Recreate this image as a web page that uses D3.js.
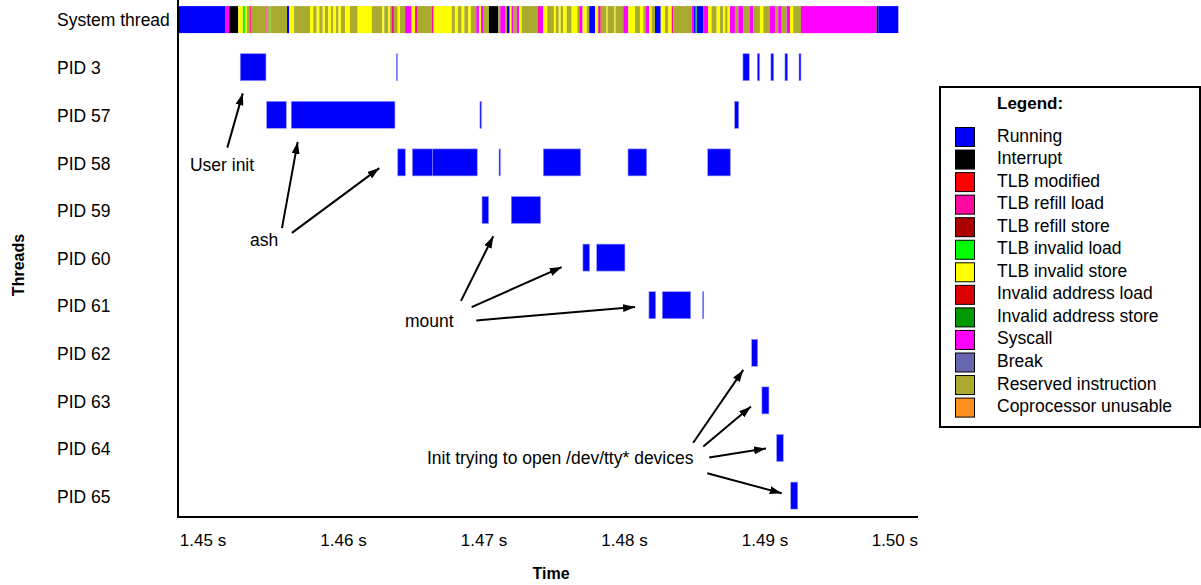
<!DOCTYPE html>
<html>
<head>
<meta charset="utf-8">
<script src="https://cdn.jsdelivr.net/npm/d3@7"></script>
<style>
  body { margin: 0; background: #fff; }
</style>
</head>
<body>
<div id="chart"></div>
<script>
const threads = ["System thread", "PID 3", "PID 57", "PID 58", "PID 59", "PID 60",
  "PID 61", "PID 62", "PID 63", "PID 64", "PID 65"];

const stateNames = ["Running", "Interrupt", "TLB modified", "TLB refill load",
  "TLB refill store", "TLB invalid load", "TLB invalid store", "Invalid address load",
  "Invalid address store", "Syscall", "Break", "Reserved instruction", "Coprocessor unusable"];
const stateColors = ["#0000ff", "#000000", "#ff0000", "#ff0aa0", "#aa0000", "#00ff00",
  "#ffff00", "#dd0000", "#009900", "#ff00ff", "#6666b0", "#aaaa2f", "#ff9020"];

// short codes used in the system thread trace
const codeNames = { R: "Running", K: "Interrupt", P: "TLB refill load", G: "TLB invalid load",
  Y: "TLB invalid store", S: "Syscall", O: "Reserved instruction" };

// system thread: [start time (ms), state]; each slice ends where the next begins
const systemSlices = [
  [1448.22,"R"],[1451.57,"S"],[1451.87,"K"],[1452.51,"Y"],[1452.83,"O"],[1452.92,"G"],[1452.99,"Y"],
  [1453.13,"O"],[1453.35,"P"],[1453.42,"O"],[1454.52,"P"],[1454.59,"O"],[1454.73,"G"],[1454.80,"O"],
  [1455.98,"R"],[1456.14,"Y"],[1456.48,"O"],[1457.62,"Y"],[1457.85,"O"],[1458.09,"Y"],[1458.28,"O"],
  [1458.52,"Y"],[1458.68,"O"],[1458.92,"Y"],[1459.11,"O"],[1459.25,"Y"],[1459.47,"O"],[1459.64,"Y"],
  [1459.82,"O"],[1460.11,"Y"],[1460.46,"O"],[1461.01,"Y"],[1462.01,"O"],[1462.76,"Y"],[1462.90,"O"],
  [1463.19,"Y"],[1463.31,"O"],[1463.45,"P"],[1463.59,"O"],[1463.86,"Y"],[1464.02,"O"],[1464.38,"S"],
  [1464.85,"Y"],[1465.09,"P"],[1465.23,"O"],[1466.28,"P"],[1466.42,"Y"],[1467.70,"O"],[1467.93,"Y"],
  [1468.15,"O"],[1468.41,"Y"],[1468.60,"O"],[1468.88,"Y"],[1469.07,"O"],[1469.45,"S"],[1469.64,"Y"],
  [1469.79,"S"],[1469.98,"O"],[1470.35,"K"],[1471.02,"O"],[1471.16,"S"],[1471.54,"O"],[1471.64,"R"],
  [1471.83,"Y"],[1471.96,"S"],[1472.11,"O"],[1472.33,"S"],[1472.49,"Y"],[1472.68,"O"],[1473.84,"P"],
  [1473.98,"S"],[1474.22,"Y"],[1474.50,"O"],[1474.98,"Y"],[1475.12,"O"],[1475.32,"Y"],[1475.46,"O"],
  [1475.64,"Y"],[1475.89,"O"],[1476.24,"Y"],[1476.64,"O"],[1476.78,"S"],[1477.02,"Y"],[1477.31,"O"],
  [1477.49,"R"],[1477.90,"Y"],[1478.13,"P"],[1478.31,"O"],[1478.72,"Y"],[1478.79,"O"],[1479.29,"Y"],
  [1479.36,"O"],[1479.91,"S"],[1480.27,"Y"],[1480.75,"O"],[1481.10,"Y"],[1481.34,"O"],[1481.53,"S"],
  [1481.76,"Y"],[1481.93,"O"],[1482.17,"R"],[1482.58,"Y"],[1482.88,"O"],[1483.12,"Y"],[1483.36,"P"],
  [1483.47,"O"],[1484.78,"S"],[1484.95,"R"],[1485.07,"G"],[1485.14,"R"],[1485.61,"S"],[1485.96,"Y"],
  [1486.20,"O"],[1486.56,"Y"],[1486.80,"O"],[1487.03,"Y"],[1487.17,"O"],[1487.34,"Y"],[1487.51,"S"],
  [1487.86,"O"],[1488.10,"S"],[1488.45,"O"],[1488.93,"S"],[1489.17,"O"],[1489.64,"Y"],[1489.88,"O"],
  [1490.35,"S"],[1490.71,"O"],[1490.94,"S"],[1491.19,"O"],[1491.54,"S"],[1491.78,"Y"],[1492.01,"O"],
  [1492.56,"S"],[1497.95,"K"],[1498.06,"R"]
];
const systemEnd = 1499.49;

// process runs: [thread, start (ms), end (ms)]
const pidRuns = [
  ["PID 3", 1452.65, 1454.48], ["PID 3", 1463.76, 1463.84], ["PID 3", 1488.43, 1488.88],
  ["PID 3", 1489.45, 1489.62], ["PID 3", 1490.42, 1490.62], ["PID 3", 1491.42, 1491.61],
  ["PID 3", 1492.42, 1492.56],
  ["PID 57", 1454.53, 1455.93], ["PID 57", 1456.28, 1463.66], ["PID 57", 1469.71, 1469.82],
  ["PID 57", 1487.84, 1488.13],
  ["PID 58", 1463.86, 1464.40], ["PID 58", 1464.90, 1466.32], ["PID 58", 1466.32, 1469.52],
  ["PID 58", 1471.07, 1471.17], ["PID 58", 1474.22, 1476.88], ["PID 58", 1480.25, 1481.58],
  ["PID 58", 1485.92, 1487.53],
  ["PID 59", 1469.86, 1470.33], ["PID 59", 1471.94, 1474.03],
  ["PID 60", 1477.04, 1477.52], ["PID 60", 1478.02, 1480.03],
  ["PID 61", 1481.74, 1482.22], ["PID 61", 1482.69, 1484.71], ["PID 61", 1485.56, 1485.64],
  ["PID 62", 1489.05, 1489.48],
  ["PID 63", 1489.78, 1490.28],
  ["PID 64", 1490.83, 1491.30],
  ["PID 65", 1491.83, 1492.33]
];

const tickValues = [1450, 1460, 1470, 1480, 1490, 1500];
const tickLabels = ["1.45 s", "1.46 s", "1.47 s", "1.48 s", "1.49 s", "1.50 s"];

// annotations in data units: time (ms) and row index
const noteLabels = [
  { text: "User init", t: 1449.07, row: 3.06 },
  { text: "ash", t: 1453.35, row: 4.63 },
  { text: "mount", t: 1464.38, row: 6.33 },
  { text: "Init trying to open /dev/tty* devices", t: 1465.94, row: 9.21 }
];
const noteArrows = [
  [1451.73, 2.69, 1452.83, 1.55],
  [1455.62, 4.38, 1456.74, 2.57],
  [1456.33, 4.48, 1462.55, 3.12],
  [1468.36, 5.91, 1470.66, 4.55],
  [1469.12, 6.04, 1475.53, 5.20],
  [1469.45, 6.32, 1480.75, 6.04],
  [1484.89, 8.89, 1488.45, 7.36],
  [1485.61, 8.97, 1489.00, 8.13],
  [1486.03, 9.20, 1490.07, 9.01],
  [1485.89, 9.53, 1491.19, 9.95]
];

const width = 1201,
  height = 585;
const plotLeft = 178,
  plotRight = 918,
  plotBottom = 517;
const barH = 27;
const fontSize = "17.5px";

const svg = d3
  .select("#chart")
  .append("svg")
  .attr("width", width)
  .attr("height", height)
  .style("font-family", "'Liberation Sans', Arial, sans-serif");

svg.append("rect").attr("width", width).attr("height", height).attr("fill", "#fff");

const x = d3.scaleLinear().domain([1448.22, 1500.89]).range([plotLeft, plotRight]);
const y = d3.scaleBand().domain(threads).range([-4.2, 519.4]);
const yMid = (name) => y(name) + y.bandwidth() / 2;
const yRow = d3
  .scaleLinear()
  .domain([0, threads.length - 1])
  .range([yMid(threads[0]), yMid(threads[threads.length - 1])]);
const color = d3.scaleOrdinal(stateNames, stateColors);

// row labels
svg
  .append("g")
  .selectAll("text")
  .data(threads)
  .join("text")
  .attr("x", 57)
  .attr("y", (d, i) => yMid(d) + (i ? 1.2 : 0))
  .attr("dominant-baseline", "central")
  .style("font-size", fontSize)
  .text((d) => d);

// system thread trace
const slices = systemSlices.map((d, i) => ({
  start: d[0],
  end: i < systemSlices.length - 1 ? systemSlices[i + 1][0] : systemEnd,
  state: codeNames[d[1]],
}));

svg
  .append("g")
  .selectAll("rect")
  .data(slices)
  .join("rect")
  .attr("x", (d) => x(d.start))
  .attr("y", yMid("System thread") - barH / 2)
  .attr("width", (d) => x(d.end) - x(d.start))
  .attr("height", barH)
  .attr("fill", (d) => color(d.state));

// process runs
svg
  .append("g")
  .selectAll("rect")
  .data(pidRuns)
  .join("rect")
  .attr("x", (d) => x(d[1]))
  .attr("y", (d) => yMid(d[0]) - barH / 2)
  .attr("width", (d) => Math.max(1, x(d[2]) - x(d[1])))
  .attr("height", barH)
  .attr("fill", color("Running"))
  .attr("stroke", "#9999ff")
  .attr("stroke-width", 0.6);

// axes
svg
  .append("path")
  .attr("d", `M${plotLeft},0V${plotBottom}H${plotRight}`)
  .attr("fill", "none")
  .attr("stroke", "#000")
  .attr("stroke-width", 2);

const tickText = svg
  .append("g")
  .selectAll("text")
  .data(tickValues)
  .join("text")
  .attr("x", (d) => x(d))
  .attr("y", 540)
  .attr("text-anchor", "middle")
  .attr("dominant-baseline", "central")
  .style("font-size", "17px")
  .text((d, i) => tickLabels[i]);

// keep the last label inside the axis
tickText.each(function () {
  const w = this.getComputedTextLength();
  const cx = +this.getAttribute("x");
  if (cx + w / 2 > plotRight) this.setAttribute("x", plotRight - w / 2);
});

svg
  .append("text")
  .attr("x", 551)
  .attr("y", 573)
  .attr("text-anchor", "middle")
  .attr("dominant-baseline", "central")
  .style("font-size", "16px")
  .style("font-weight", "bold")
  .text("Time");

svg
  .append("text")
  .attr("transform", "translate(18,265) rotate(-90)")
  .attr("text-anchor", "middle")
  .attr("dominant-baseline", "central")
  .style("font-size", "16px")
  .style("font-weight", "bold")
  .text("Threads");

// annotations
svg
  .append("defs")
  .append("marker")
  .attr("id", "arrow")
  .attr("markerUnits", "userSpaceOnUse")
  .attr("viewBox", "0 0 12 8")
  .attr("refX", 12)
  .attr("refY", 4)
  .attr("markerWidth", 12)
  .attr("markerHeight", 8)
  .attr("orient", "auto")
  .append("path")
  .attr("d", "M0,0L12,4L0,8Z")
  .attr("fill", "#000");

svg
  .append("g")
  .selectAll("line")
  .data(noteArrows)
  .join("line")
  .attr("x1", (d) => x(d[0]))
  .attr("y1", (d) => yRow(d[1]))
  .attr("x2", (d) => x(d[2]))
  .attr("y2", (d) => yRow(d[3]))
  .attr("stroke", "#000")
  .attr("stroke-width", 2)
  .attr("marker-end", "url(#arrow)");

svg
  .append("g")
  .selectAll("text")
  .data(noteLabels)
  .join("text")
  .attr("x", (d) => x(d.t))
  .attr("y", (d) => yRow(d.row))
  .attr("dominant-baseline", "central")
  .style("font-size", fontSize)
  .text((d) => d.text);

// legend
const legend = svg.append("g").attr("transform", "translate(940,87)");

legend
  .append("rect")
  .attr("width", 260)
  .attr("height", 340)
  .attr("fill", "#fff")
  .attr("stroke", "#000")
  .attr("stroke-width", 2);

legend
  .append("text")
  .attr("x", 57)
  .attr("y", 16)
  .attr("dominant-baseline", "central")
  .style("font-size", "17px")
  .style("font-weight", "bold")
  .text("Legend:");

const items = legend
  .selectAll("g.item")
  .data(stateNames)
  .join("g")
  .attr("class", "item")
  .attr("transform", (d, i) => `translate(0,${40 + i * 22.55})`);

items
  .append("rect")
  .attr("x", 15.5)
  .attr("y", 0.5)
  .attr("width", 19)
  .attr("height", 19)
  .attr("fill", (d) => color(d))
  .attr("stroke", "#000")
  .attr("stroke-width", 1);

items
  .append("text")
  .attr("x", 57)
  .attr("y", 8.5)
  .attr("dominant-baseline", "central")
  .style("font-size", fontSize)
  .text((d) => d);
</script>
</body>
</html>
